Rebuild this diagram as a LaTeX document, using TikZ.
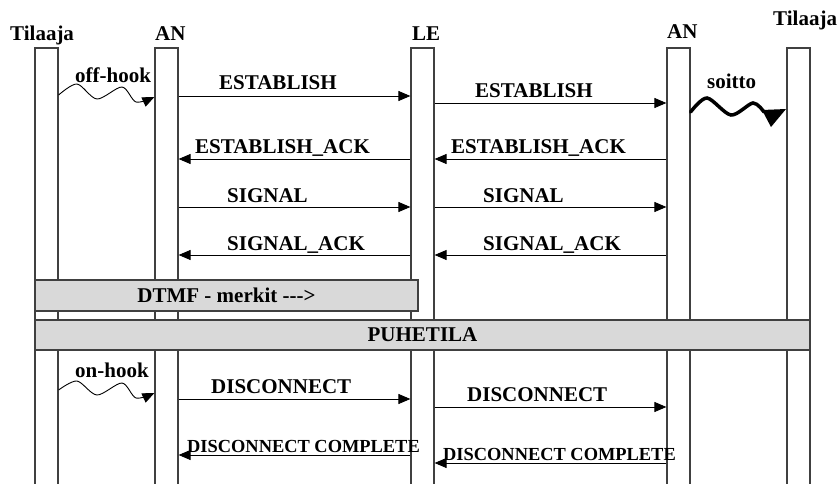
\documentclass[tikz,border=0pt]{standalone}
\usepackage{fontspec}
\setmainfont{Liberation Serif}
\usetikzlibrary{arrows.meta, positioning}
\definecolor{lineGray}{gray}{0.25}
\definecolor{barGray}{gray}{0.85}

\tikzset{
    life/.style={draw=lineGray, line width=1.2pt, minimum width=23pt, minimum height=440pt, inner sep=0pt},
    bar/.style={draw=lineGray, fill=barGray, line width=1.2pt, inner sep=0pt, font=\fontsize{21}{24}\selectfont\bfseries},
    msg/.style={-{Triangle[length=12pt,width=10pt]}, line width=0.9pt},
    lbl/.style={anchor=base west, inner sep=0pt, font=\fontsize{21}{24}\selectfont\bfseries},
    lblsmall/.style={lbl, font=\fontsize{18.4}{21}\selectfont\bfseries}
}

\begin{document}
\begin{tikzpicture}[x=1pt, y=-1pt]
    \useasboundingbox (0,0) rectangle (839,483);

    % lifelines
    \node[life] (sub1) at (46.5,268) {};
    \node[life] (an1) at (166.5,268) {};
    \node[life] (le) at (422.5,268) {};
    \node[life] (an2) at (678.5,268) {};
    \node[life] (sub2) at (798.5,268) {};

    \node[lbl] (hsub1) at (10,40) {Tilaaja};
    \node[lbl] (han1) at (155,40) {AN};
    \node[lbl] (hle) at (412,40) {LE};
    \node[lbl] (han2) at (667,38) {AN};
    \node[lbl] (hsub2) at (773,25) {Tilaaja};

    % off-hook
    \coordinate (offA) at (sub1.east |- 0,95);
    \coordinate (offB) at (an1.west |- 0,97);
    \draw[msg] plot[smooth] coordinates {(offA) (77,84) (97,99) (122,87) (136,102) (offB)};
    \node[lbl] (offlbl) at (75,82) {off-hook};

    % establish
    \draw[msg] (an1.east |- 0,96) -- (le.west |- 0,96);
    \node[lbl] (est1) at (219,89) {ESTABLISH};
    \draw[msg] (le.east |- 0,103) -- (an2.west |- 0,103);
    \node[lbl] (est2) at (475,97) {ESTABLISH};

    % soitto
    \coordinate (ringA) at (an2.east |- 0,112);
    \coordinate (ringB) at (764,112);
    \draw[line width=3.5pt, line cap=round] plot[smooth] coordinates {(ringA) (707,98) (731,115) (753,103) (ringB)};
    \fill (762,110) -- (786,109) -- (771,127) -- cycle;
    \node[lbl] (ringlbl) at (707,88) {soitto};

    \draw[msg] (le.west |- 0,159) -- (an1.east |- 0,159);
    \node[lbl] (ack1) at (195,153) {ESTABLISH\_ACK};
    \draw[msg] (an2.west |- 0,159) -- (le.east |- 0,159);
    \node[lbl] (ack2) at (451,153) {ESTABLISH\_ACK};

    % signal
    \draw[msg] (an1.east |- 0,207) -- (le.west |- 0,207);
    \node[lbl] (sig1) at (227,202) {SIGNAL};
    \draw[msg] (le.east |- 0,207) -- (an2.west |- 0,207);
    \node[lbl] (sig2) at (483,202) {SIGNAL};

    \draw[msg] (le.west |- 0,255) -- (an1.east |- 0,255);
    \node[lbl] (sack1) at (227,250) {SIGNAL\_ACK};
    \draw[msg] (an2.west |- 0,255) -- (le.east |- 0,255);
    \node[lbl] (sack2) at (483,250) {SIGNAL\_ACK};

    % bars
    \node[bar, minimum width=383pt, minimum height=31pt] (dtmf) at (226.5,295.5) {DTMF - merkit -\kern0pt-\kern0pt->};
    \node[bar, minimum width=775pt, minimum height=30pt] (talk) at (422.5,335) {PUHETILA};

    % on-hook
    \coordinate (onA) at (sub1.east |- 0,390);
    \coordinate (onB) at (an1.west |- 0,393);
    \draw[msg] plot[smooth] coordinates {(onA) (77,381) (97,395) (122,383) (136,398) (onB)};
    \node[lbl] (onlbl) at (75,377) {on-hook};

    % disconnect
    \draw[msg] (an1.east |- 0,399) -- (le.west |- 0,399);
    \node[lbl] (dis1) at (211,393) {DISCONNECT};
    \draw[msg] (le.east |- 0,407) -- (an2.west |- 0,407);
    \node[lbl] (dis2) at (467,401) {DISCONNECT};

    \draw[msg] (le.west |- 0,455) -- (an1.east |- 0,455);
    \node[lblsmall] (dc1) at (187,452) {DISCONNECT COMPLETE};
    \draw[msg] (an2.west |- 0,463) -- (le.east |- 0,463);
    \node[lblsmall] (dc2) at (443,460) {DISCONNECT COMPLETE};
\end{tikzpicture}
\end{document}
